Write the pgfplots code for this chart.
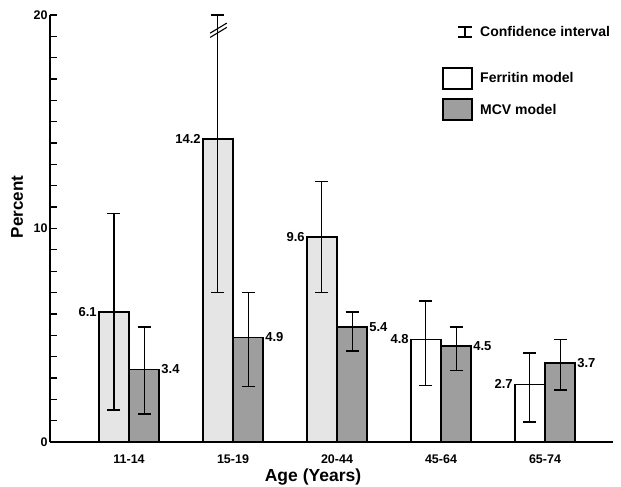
\documentclass[border=0pt]{standalone}
\usepackage{pgfplots}
\pgfplotsset{compat=1.18}
\usepackage{pgfplotstable}
\usepackage{fontspec}
\setmainfont{Liberation Sans}

\pgfplotstableread{
x y lo hi
0 6.1 1.5 10.7
1 14.2 7.0 20.0
2 9.6 7.0 12.2
}\ferA
\pgfplotstableread{
x y lo hi
3 4.8 2.65 6.6
4 2.7 0.95 4.15
}\ferB
\pgfplotstableread{
x y lo hi
0 3.4 1.3 5.4
1 4.9 2.6 7.0
2 5.4 4.25 6.1
3 4.5 3.35 5.4
4 3.7 2.45 4.8
}\mcv

\definecolor{ferfill}{gray}{0.90}
\definecolor{mcvfill}{gray}{0.62}

\begin{document}
\begin{tikzpicture}
\begin{axis}[
  scale only axis,
  width=563bp, height=427bp,
  xmin=-0.76, xmax=4.654,
  ymin=0, ymax=20,
  clip=false,
  axis x line=bottom, axis y line=left,
  axis line style={-, line width=1.6bp},
  x axis line style={line width=2.6bp},
  xtick={0,1,2,3,4},
  xticklabels={11-14,15-19,20-44,45-64,65-74},
  xtick style={draw=none},
  ytick={0,10,20},
  minor y tick num=9,
  tick align=inside,
  major tick length=7bp, minor tick length=7bp,
  y tick style={line width=1.3bp, black},
  /pgf/number format/assume math mode=true,
  tick label style={font=\fontsize{12.5bp}{14bp}\selectfont\bfseries},
  xticklabel style={yshift=-2bp},
  yticklabel style={xshift=1bp},
  ybar, bar width=0.29,
  error bars/y dir=both,
  error bars/y explicit,
  error bars/error bar style={line width=1.1bp, black},
  error bars/error mark options={rotate=90, mark size=6.5bp, line width=1.8bp, black},
  every node near coord/.append style={font=\fontsize{13bp}{15bp}\selectfont\bfseries, inner sep=1bp, black},
]
\addplot[draw=black, line width=1.6bp, fill=ferfill, bar shift=-0.145,
  nodes near coords, nodes near coords align={center},
  every node near coord/.append style={anchor=east, xshift=-15.5bp},
  point meta=explicit symbolic]
  table[x=x, y=y, meta=y,
        y error plus expr=\thisrow{hi}-\thisrow{y},
        y error minus expr=\thisrow{y}-\thisrow{lo}] {\ferA};
\addplot[draw=black, line width=1.6bp, fill=white, bar shift=-0.145,
  nodes near coords, nodes near coords align={center},
  every node near coord/.append style={anchor=east, xshift=-15.5bp},
  point meta=explicit symbolic]
  table[x=x, y=y, meta=y,
        y error plus expr=\thisrow{hi}-\thisrow{y},
        y error minus expr=\thisrow{y}-\thisrow{lo}] {\ferB};
\addplot[draw=black, line width=1.6bp, fill=mcvfill, bar shift=0.145,
  nodes near coords, nodes near coords align={center},
  every node near coord/.append style={anchor=west, xshift=15.5bp},
  point meta=explicit symbolic]
  table[x=x, y=y, meta=y,
        y error plus expr=\thisrow{hi}-\thisrow{y},
        y error minus expr=\thisrow{y}-\thisrow{lo}] {\mcv};
% axis break marks on the clipped confidence interval
\draw[line width=1.1bp] (0.78,18.95) -- (0.94,19.42);
\draw[line width=1.1bp] (0.78,19.15) -- (0.94,19.62);
\end{axis}
% axis titles
\node[rotate=90, font=\fontsize{17bp}{19bp}\selectfont\bfseries] at (-33bp,235bp) {Percent};
\node[font=\fontsize{17.5bp}{19bp}\selectfont\bfseries] at (263bp,-35bp) {Age (Years)};
% legend
\draw[line width=1.1bp] (415bp,405bp) -- (415bp,415bp);
\draw[line width=1.6bp] (408bp,405bp) -- (422bp,405bp);
\draw[line width=1.6bp] (408bp,415bp) -- (422bp,415bp);
\node[anchor=west, inner sep=0pt, font=\fontsize{14bp}{16bp}\selectfont\bfseries] at (430bp,410bp) {Confidence interval};
\draw[line width=1.6bp, fill=white] (393bp,353bp) rectangle (422bp,374bp);
\node[anchor=west, inner sep=0pt, font=\fontsize{14bp}{16bp}\selectfont\bfseries] at (430bp,364bp) {Ferritin model};
\draw[line width=1.6bp, fill=mcvfill] (393bp,322bp) rectangle (422bp,343bp);
\node[anchor=west, inner sep=0pt, font=\fontsize{14bp}{16bp}\selectfont\bfseries] at (430bp,333bp) {MCV model};
\pgfresetboundingbox
\useasboundingbox (-50bp,-45bp) rectangle (571bp,442bp);
\end{tikzpicture}
\end{document}
